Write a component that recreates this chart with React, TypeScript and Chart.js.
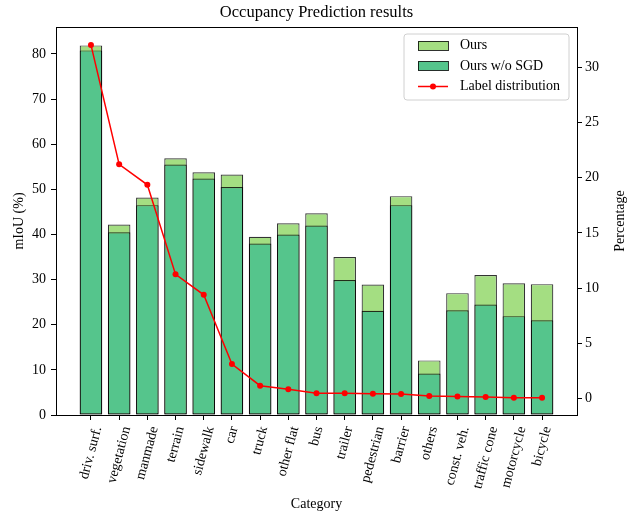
import { useEffect, useRef } from "react";
import { Chart, registerables } from "chart.js";

Chart.register(...registerables);

const FONT = "'Liberation Serif', 'DejaVu Serif', serif";

const chartTitle = "Occupancy Prediction results";
const categories = [
  "driv. surf.", "vegetation", "manmade", "terrain", "sidewalk", "car", "truck",
  "other flat", "bus", "trailer", "pedestrian", "barrier", "others", "const. veh.",
  "traffic cone", "motorcycle", "bicycle",
];
const oursMiou = [81.9, 42.2, 48.2, 56.9, 53.8, 53.3, 39.5, 42.5, 44.7, 35.0, 28.9, 48.5, 12.1, 27.0, 31.0, 29.2, 29.0];
const withoutSgdMiou = [80.8, 40.5, 46.5, 55.5, 52.4, 50.5, 38.0, 40.0, 42.0, 29.9, 23.1, 46.5, 9.2, 23.2, 24.5, 21.9, 21.0];
const labelDistribution = [32.0, 21.2, 19.35, 11.25, 9.4, 3.14, 1.18, 0.85, 0.49, 0.49, 0.45, 0.42, 0.24, 0.21, 0.15, 0.09, 0.09];
const leftTicks = [0, 10, 20, 30, 40, 50, 60, 70, 80];
const rightTicks = [0, 5, 10, 15, 20, 25, 30];

const OURS_COLOR = "#a4de82";
const WO_COLOR = "#55c58c";
const EDGE = "rgba(0,0,0,0.8)";

const decorPlugin = {
  id: "decor",
  afterDraw(chart: any) {
    const { ctx, chartArea: a, scales } = chart;
    ctx.save();
    // spines
    ctx.strokeStyle = "#000";
    ctx.lineWidth = 1;
    ctx.strokeRect(Math.round(a.left) + 0.5, Math.round(a.top) + 0.5, Math.round(a.right - a.left), Math.round(a.bottom - a.top));

    ctx.fillStyle = "#000";
    // title
    ctx.font = `16.5px ${FONT}`;
    ctx.textAlign = "center";
    ctx.textBaseline = "middle";
    ctx.fillText(chartTitle, (a.left + a.right) / 2, 13);

    // x tick labels (rotated 75deg, bbox centred on tick)
    ctx.font = `14px ${FONT}`;
    const ang = (75 * Math.PI) / 180;
    categories.forEach((c, i) => {
      const x = scales.x.getPixelForValue(i);
      const w = ctx.measureText(c).width;
      const h = 14;
      const bh = w * Math.sin(ang) + h * Math.cos(ang);
      const cy = a.bottom + 10 + bh / 2;
      ctx.save();
      ctx.translate(x, cy);
      ctx.rotate(-ang);
      ctx.fillText(c, 0, 0);
      ctx.restore();
    });

    // axis titles
    ctx.fillText("Category", (a.left + a.right) / 2, 504);
    const midY = (a.top + a.bottom) / 2;
    ctx.save();
    ctx.translate(19, midY);
    ctx.rotate(-Math.PI / 2);
    ctx.fillText("mIoU (%)", 0, 0);
    ctx.restore();
    ctx.save();
    ctx.translate(620, midY);
    ctx.rotate(-Math.PI / 2);
    ctx.fillText("Percentage", 0, 0);
    ctx.restore();

    // legend
    const bx = 404, by = 34, bw = 165, bhh = 66, r = 3;
    ctx.beginPath();
    ctx.moveTo(bx + r, by);
    ctx.arcTo(bx + bw, by, bx + bw, by + bhh, r);
    ctx.arcTo(bx + bw, by + bhh, bx, by + bhh, r);
    ctx.arcTo(bx, by + bhh, bx, by, r);
    ctx.arcTo(bx, by, bx + bw, by, r);
    ctx.closePath();
    ctx.fillStyle = "rgba(255,255,255,0.8)";
    ctx.fill();
    ctx.strokeStyle = "#d0d0d0";
    ctx.lineWidth = 1;
    ctx.stroke();

    const rows = [45.7, 65.9, 86.5];
    const hx = 418, hw = 30;
    [OURS_COLOR, WO_COLOR].forEach((col, i) => {
      ctx.fillStyle = col;
      ctx.fillRect(hx, rows[i] - 4.5, hw, 9);
      ctx.strokeStyle = EDGE;
      ctx.strokeRect(hx + 0.5, Math.round(rows[i] - 4.5) + 0.5, hw, 9);
    });
    ctx.strokeStyle = "#ff0000";
    ctx.lineWidth = 1.5;
    ctx.beginPath();
    ctx.moveTo(hx, rows[2]);
    ctx.lineTo(hx + hw, rows[2]);
    ctx.stroke();
    ctx.fillStyle = "#ff0000";
    ctx.beginPath();
    ctx.arc(hx + hw / 2, rows[2], 3, 0, Math.PI * 2);
    ctx.fill();

    ctx.fillStyle = "#000";
    ctx.font = `14px ${FONT}`;
    ctx.textAlign = "left";
    ["Ours", "Ours w/o SGD", "Label distribution"].forEach((t, i) => {
      ctx.fillText(t, 460, rows[i]);
    });
    ctx.restore();
  },
};

export default function App() {
  const ref = useRef<HTMLCanvasElement | null>(null);

  useEffect(() => {
    if (!ref.current) return;
    const barStyle = {
      borderColor: EDGE,
      borderWidth: 1.2,
      borderSkipped: false,
      grouped: false,
      categoryPercentage: 1,
      barPercentage: 0.8,
      xAxisID: "x",
      yAxisID: "y",
    };
    const chart = new Chart(ref.current, {
      type: "bar",
      data: {
        datasets: [
          {
            ...barStyle,
            label: "Ours",
            data: oursMiou.map((v, i) => ({ x: i, y: v })),
            backgroundColor: OURS_COLOR,
            order: 2,
          } as any,
          {
            ...barStyle,
            label: "Ours w/o SGD",
            data: withoutSgdMiou.map((v, i) => ({ x: i, y: v })),
            backgroundColor: WO_COLOR,
            order: 1,
          } as any,
          {
            type: "line",
            label: "Label distribution",
            data: labelDistribution.map((v, i) => ({ x: i, y: v })),
            borderColor: "#ff0000",
            backgroundColor: "#ff0000",
            borderWidth: 1.5,
            pointRadius: 3,
            pointBorderWidth: 0,
            tension: 0,
            xAxisID: "x",
            yAxisID: "y1",
            order: 0,
          } as any,
        ],
      },
      options: {
        animation: false,
        responsive: false,
        maintainAspectRatio: false,
        layout: { padding: { top: 27, left: 0, right: 0, bottom: 0 } },
        plugins: {
          legend: { display: false },
          title: { display: false },
          tooltip: { enabled: false },
        },
        scales: {
          x: {
            type: "linear",
            min: -1.24,
            max: 17.24,
            offset: false,
            afterBuildTicks: (s: any) => {
              s.ticks = categories.map((_, i) => ({ value: i }));
            },
            afterFit: (s: any) => {
              s.height = 97;
            },
            ticks: { display: false },
            grid: { offset: false, drawOnChartArea: false, drawTicks: true, tickLength: 5, color: "#000", tickWidth: 1 },
            border: { display: true, color: "#000" },
          },
          y: {
            type: "linear",
            position: "left",
            min: 0,
            max: 85.98,
            afterBuildTicks: (s: any) => {
              s.ticks = leftTicks.map((v) => ({ value: v }));
            },
            afterFit: (s: any) => {
              s.width = 56;
            },
            ticks: { color: "#000", font: { family: FONT, size: 14 }, padding: 5 },
            grid: { drawOnChartArea: false, drawTicks: true, tickLength: 5, color: "#000" },
            border: { display: true, color: "#000" },
          },
          y1: {
            type: "linear",
            position: "right",
            min: -1.47,
            max: 33.62,
            afterBuildTicks: (s: any) => {
              s.ticks = rightTicks.map((v) => ({ value: v }));
            },
            afterFit: (s: any) => {
              s.width = 52;
            },
            ticks: { color: "#000", font: { family: FONT, size: 14 }, padding: 3 },
            grid: { drawOnChartArea: false, drawTicks: true, tickLength: 5, color: "#000" },
            border: { display: true, color: "#000" },
          },
        },
      } as any,
      plugins: [decorPlugin],
    });
    return () => chart.destroy();
  }, []);

  return (
    <div style={{ position: "fixed", left: 0, top: 0, width: 629, height: 512, background: "#fff" }}>
      <canvas ref={ref} width={629} height={512} style={{ width: 629, height: 512 }} />
    </div>
  );
}
